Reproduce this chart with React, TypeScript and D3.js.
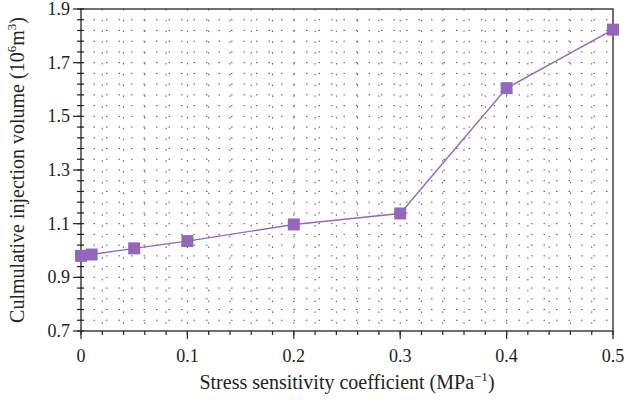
import React, { useEffect, useRef } from 'react';
import * as d3 from 'd3';

const coefficients = [0, 0.01, 0.05, 0.1, 0.2, 0.3, 0.4, 0.5];
const volumes = [0.98, 0.985, 1.008, 1.035, 1.097, 1.138, 1.605, 1.823];
const xTicks = [0, 0.1, 0.2, 0.3, 0.4, 0.5];
const yTicks = [0.7, 0.9, 1.1, 1.3, 1.5, 1.7, 1.9];

const W = 626;
const H = 406;
const FONT = '"Liberation Serif", "DejaVu Serif", serif';
const PURPLE = '#9467bd';

const App = () => {
  const ref = useRef<SVGSVGElement>(null);

  useEffect(() => {
    const svg = d3.select(ref.current);
    svg.selectAll('*').remove();

    const margin = { top: 9, right: 13, bottom: 75, left: 81 };
    const x = d3.scaleLinear().domain([0, 0.5]).range([margin.left, W - margin.right]);
    const y = d3.scaleLinear().domain([0.7, 1.9]).range([H - margin.bottom, margin.top]);

    const xMinor = d3.range(0, 26).map(i => i * 0.02);
    const yMinor = d3.range(0, 31).map(i => 0.7 + i * 0.04);

    // dotted grid
    const grid = svg.append('g').attr('stroke', '#555').attr('stroke-width', 1);
    grid.selectAll('.gx').data(xMinor.slice(1, -1)).enter().append('line')
      .attr('stroke-dasharray', '1.5,9.3')
      .attr('x1', d => x(d)).attr('x2', d => x(d))
      .attr('y1', y(1.9)).attr('y2', y(0.7));
    grid.selectAll('.gy').data(yMinor.slice(1, -1)).enter().append('line')
      .attr('stroke-dasharray', '1.5,11')
      .attr('y1', d => y(d)).attr('y2', d => y(d))
      .attr('x1', x(0)).attr('x2', x(0.5));

    // frame
    svg.append('rect')
      .attr('x', x(0)).attr('y', y(1.9))
      .attr('width', x(0.5) - x(0)).attr('height', y(0.7) - y(1.9))
      .attr('fill', 'none').attr('stroke', '#222').attr('stroke-width', 1.3);

    const axes = svg.append('g').attr('stroke', '#222').attr('stroke-width', 1.2);
    // x ticks
    axes.selectAll('.xm').data(xMinor).enter().append('line')
      .attr('x1', d => x(d)).attr('x2', d => x(d))
      .attr('y1', y(0.7)).attr('y2', y(0.7) + 4);
    axes.selectAll('.xM').data(xTicks).enter().append('line')
      .attr('x1', d => x(d)).attr('x2', d => x(d))
      .attr('y1', y(0.7)).attr('y2', y(0.7) + 8);
    // y ticks
    axes.selectAll('.ym').data(yMinor).enter().append('line')
      .attr('y1', d => y(d)).attr('y2', d => y(d))
      .attr('x1', x(0) - 4).attr('x2', x(0) + 3);
    axes.selectAll('.yM').data(yTicks).enter().append('line')
      .attr('y1', d => y(d)).attr('y2', d => y(d))
      .attr('x1', x(0) - 8).attr('x2', x(0));

    svg.selectAll('.xl').data(xTicks).enter().append('text')
      .attr('x', d => x(d)).attr('y', y(0.7) + 31)
      .attr('text-anchor', 'middle').attr('font-family', FONT).attr('font-size', 18)
      .attr('fill', '#222')
      .text(d => d3.format('')(d));
    svg.selectAll('.yl').data(yTicks).enter().append('text')
      .attr('x', x(0) - 11).attr('y', d => y(d) + 6)
      .attr('text-anchor', 'end').attr('font-family', FONT).attr('font-size', 18)
      .attr('fill', '#222')
      .text(d => d3.format('.1f')(d));

    // line + markers
    const pts = coefficients.map((c, i) => [c, volumes[i]] as [number, number]);
    const line = d3.line<[number, number]>().x(d => x(d[0])).y(d => y(d[1]));
    svg.append('path').datum(pts).attr('d', line)
      .attr('fill', 'none').attr('stroke', PURPLE).attr('stroke-width', 1.4);
    svg.selectAll('.mk').data(pts).enter().append('rect')
      .attr('x', d => x(d[0]) - 6).attr('y', d => y(d[1]) - 6)
      .attr('width', 12).attr('height', 12).attr('fill', PURPLE);

    // axis titles
    const xt = svg.append('text')
      .attr('x', (x(0) + x(0.5)) / 2).attr('y', H - 17)
      .attr('text-anchor', 'middle').attr('font-family', FONT).attr('font-size', 20)
      .attr('fill', '#222');
    xt.append('tspan').text('Stress sensitivity coefficient (MPa');
    xt.append('tspan').attr('font-size', 13).attr('dy', -8).text('−1');
    xt.append('tspan').attr('dy', 8).text(')');

    const yt = svg.append('text')
      .attr('transform', `translate(24,${(y(0.7) + y(1.9)) / 2}) rotate(-90)`)
      .attr('text-anchor', 'middle').attr('font-family', FONT).attr('font-size', 20)
      .attr('fill', '#222');
    yt.append('tspan').text('Culmulative injection volume (10');
    yt.append('tspan').attr('font-size', 13).attr('dy', -8).text('6');
    yt.append('tspan').attr('dy', 8).text('m');
    yt.append('tspan').attr('font-size', 13).attr('dy', -8).text('3');
    yt.append('tspan').attr('dy', 8).text(')');
  }, []);

  return (
    <svg ref={ref} width={W} height={H}
      style={{ position: 'absolute', left: 0, top: 0, background: '#fff' }} />
  );
};

export default App;
